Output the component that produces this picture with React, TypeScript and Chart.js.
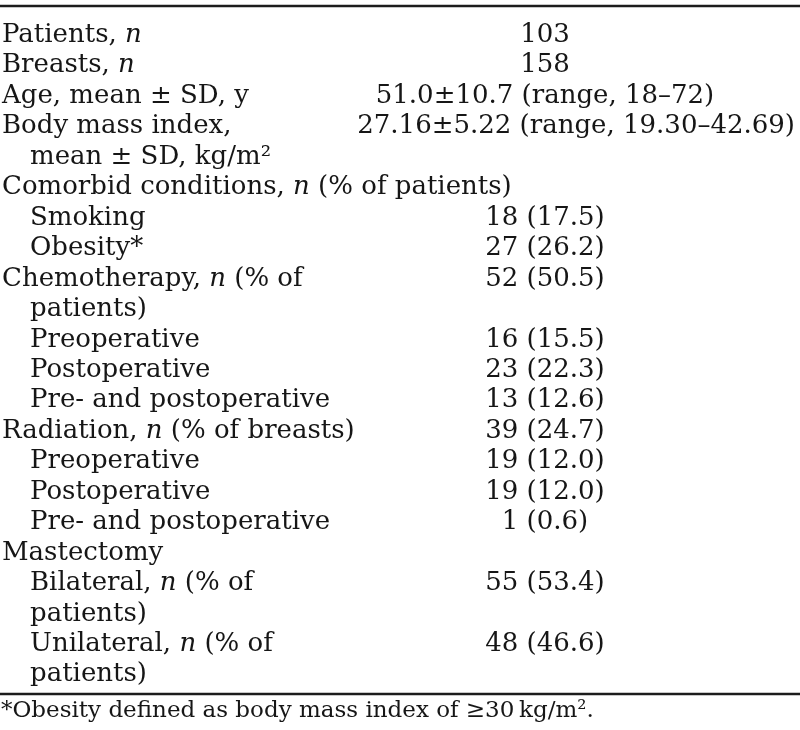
import React, { useEffect, useRef } from "react";
import { Chart, registerables } from "chart.js";

Chart.register(...registerables);

// Row labels (text between underscores is italic), indent levels and values
const rowLabels: string[] = [
  "Patients, _n_",
  "Breasts, _n_",
  "Age, mean ± SD, y",
  "Body mass index,",
  "mean ± SD, kg/m²",
  "Comorbid conditions, _n_ (% of patients)",
  "Smoking",
  "Obesity*",
  "Chemotherapy, _n_ (% of",
  "patients)",
  "Preoperative",
  "Postoperative",
  "Pre- and postoperative",
  "Radiation, _n_ (% of breasts)",
  "Preoperative",
  "Postoperative",
  "Pre- and postoperative",
  "Mastectomy",
  "Bilateral, _n_ (% of",
  "patients)",
  "Unilateral, _n_ (% of",
  "patients)",
];

const rowIndent: number[] = [0, 0, 0, 0, 1, 0, 1, 1, 0, 1, 1, 1, 1, 0, 1, 1, 1, 0, 1, 1, 1, 1];

const rowValues: string[] = [
  "103",
  "158",
  "51.0±10.7 (range, 18–72)",
  "27.16±5.22 (range, 19.30–42.69)",
  "",
  "",
  "18 (17.5)",
  "27 (26.2)",
  "52 (50.5)",
  "",
  "16 (15.5)",
  "23 (22.3)",
  "13 (12.6)",
  "39 (24.7)",
  "19 (12.0)",
  "19 (12.0)",
  "1 (0.6)",
  "",
  "55 (53.4)",
  "",
  "48 (46.6)",
  "",
];

const footnote = "*Obesity defined as body mass index of ≥30\u2009kg/m².";

export default function App() {
  const ref = useRef<HTMLCanvasElement>(null);

  useEffect(() => {
    if (!ref.current) return;
    const FONT = "'DejaVu Serif', serif";
    const SIZE = 26;
    const INK = "#161616";

    const tablePlugin = {
      id: "tableText",
      afterDraw(chart: any) {
        const ctx: CanvasRenderingContext2D = chart.ctx;
        const xs = chart.scales.x;
        const ys = chart.scales.y;
        ctx.save();
        ctx.fillStyle = INK;
        ctx.strokeStyle = "#1c1c1c";
        ctx.textBaseline = "alphabetic";

        // rules
        ctx.lineWidth = 2.5;
        const topY = Math.round(ys.getPixelForValue(-1.19));
        const botY = Math.round(ys.getPixelForValue(21.41));
        ctx.beginPath();
        ctx.moveTo(xs.getPixelForValue(0), topY);
        ctx.lineTo(xs.getPixelForValue(800), topY);
        ctx.moveTo(xs.getPixelForValue(0), botY);
        ctx.lineTo(xs.getPixelForValue(800), botY);
        ctx.stroke();

        // left column
        rowLabels.forEach((label, i) => {
          const y = ys.getPixelForValue(i);
          let x = xs.getPixelForValue(rowIndent[i] ? 30 : 2);
          const parts = label.split("_");
          parts.forEach((p, k) => {
            if (!p) return;
            ctx.font = `${k % 2 ? "italic " : ""}${SIZE}px ${FONT}`;
            ctx.textAlign = "left";
            ctx.fillText(p, x, y);
            x += ctx.measureText(p).width;
          });
        });

        // right column: centred, wide entries pushed to the right margin
        ctx.font = `${SIZE}px ${FONT}`;
        ctx.textAlign = "left";
        const cx = xs.getPixelForValue(545);
        const rightEdge = xs.getPixelForValue(795);
        rowValues.forEach((v, i) => {
          if (!v) return;
          const w = ctx.measureText(v).width;
          let left = cx - w / 2;
          if (w > 400) left = rightEdge - w;
          ctx.fillText(v, left, ys.getPixelForValue(i));
        });

        // footnote
        ctx.font = `23px ${FONT}`;
        ctx.textAlign = "left";
        ctx.fillText(footnote, xs.getPixelForValue(1), ys.getPixelForValue(22.17));
        ctx.restore();
      },
    };

    const chart = new Chart(ref.current, {
      type: "scatter",
      data: { datasets: [{ data: [] }] },
      options: {
        responsive: false,
        animation: false,
        layout: { padding: { top: 5.46, bottom: 12.01, left: 0, right: 0 } },
        plugins: { legend: { display: false }, tooltip: { enabled: false } },
        scales: {
          x: { type: "linear", min: 0, max: 800, display: false },
          y: { type: "linear", min: -1.2, max: 22.2, reverse: true, display: false },
        },
      },
      plugins: [tablePlugin],
    } as any);
    return () => chart.destroy();
  }, []);

  return (
    <div style={{ position: "fixed", left: 0, top: 0, width: 800, height: 730, background: "#fff" }}>
      <canvas ref={ref} width={800} height={730} style={{ display: "block" }} />
    </div>
  );
}
